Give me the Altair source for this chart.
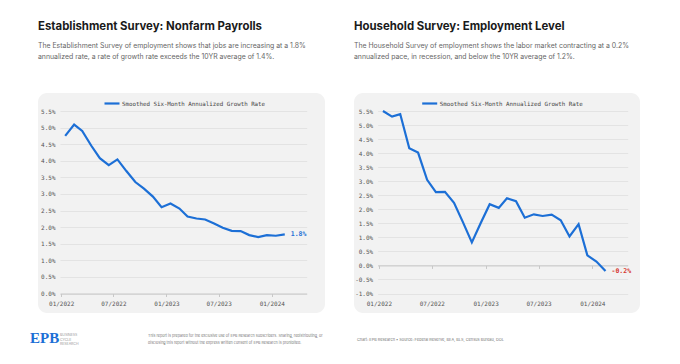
import altair as alt
import pandas as pd

# ---------------- data ----------------
months = pd.date_range("2022-01-01", periods=26, freq="MS") + pd.Timedelta(days=14)

estab_values = [4.75, 5.09, 4.90, 4.46, 4.08, 3.87, 4.04, 3.69, 3.36, 3.16, 2.92, 2.60,
                2.71, 2.56, 2.32, 2.26, 2.23, 2.11, 1.98, 1.89, 1.88, 1.76, 1.70, 1.76,
                1.74, 1.78]
house_values = [5.50, 5.30, 5.39, 4.17, 4.02, 3.05, 2.61, 2.62, 2.23, 1.55, 0.82, 1.50,
                2.18, 2.05, 2.39, 2.29, 1.70, 1.82, 1.76, 1.81, 1.61, 1.03, 1.47, 0.36,
                0.14, -0.20]

series_name = "Smoothed Six-Month Annualized Growth Rate"

estab_ticks = [0.0, 0.5, 1.0, 1.5, 2.0, 2.5, 3.0, 3.5, 4.0, 4.5, 5.0, 5.5]
house_ticks = [-1.0, -0.5, 0.0, 0.5, 1.0, 1.5, 2.0, 2.5, 3.0, 3.5, 4.0, 4.5, 5.0, 5.5]

estab_title = "Establishment Survey: Nonfarm Payrolls"
estab_sub = ["The Establishment Survey of employment shows that jobs are increasing at a 1.8%",
             "annualized rate, a rate of growth rate exceeds the 10YR average of 1.4%."]
house_title = "Household Survey: Employment Level"
house_sub = ["The Household Survey of employment shows the labor market contracting at a 0.2%",
             "annualized pace, in recession, and below the 10YR average of 1.2%."]

footer_disclaimer = ["This report is prepared for the exclusive use of EPB Research subscribers. Sharing, redistributing, or",
                     "disclosing this report without the express written consent of EPB Research is prohibited."]
footer_source = "Chart: EPB Research  \u2022  Source: Federal Reserve, BEA, BLS, Census Bureau, DOL"

# ---------------- style ----------------
BLUE = "#1c6fd6"
RED = "#d6362f"
CARD = "#f2f2f2"
MONO = "DejaVu Sans Mono"
SANS = "Inter"

x_dom = [alt.DateTime(year=2021, month=12, date=28), alt.DateTime(year=2024, month=5, date=1)]
x_ticks = [alt.DateTime(year=y, month=m, date=1) for (y, m) in
           [(2022, 1), (2022, 7), (2023, 1), (2023, 7), (2024, 1)]]

CARD_W_L, CARD_W_R, CARD_H = 287, 286, 220
Y_RANGE = [200.5, 18.0]


def panel(values, ticks, title, sub, x_range, label_color, zero_axis, card_w):
    df = pd.DataFrame({"date": months, "value": values, "series": series_name})
    last = df.tail(1).assign(label=f"{values[-1]:.1f}%")
    ymin, ymax = ticks[0], ticks[-1]
    y0 = Y_RANGE[0] + (0 - ymin) / (ymax - ymin) * (Y_RANGE[1] - Y_RANGE[0])
    axis_y = y0 if zero_axis else Y_RANGE[0]
    x_offset = axis_y - CARD_H
    label_pad = (Y_RANGE[0] - axis_y) + 3.5

    x_scale = alt.Scale(domain=x_dom, range=x_range)
    y_scale = alt.Scale(domain=[ymin, ymax], range=Y_RANGE, nice=False, zero=False)

    x_axis = alt.Axis(values=x_ticks, format="%m/%Y", title=None, grid=False,
                      offset=x_offset, tickSize=3, labelPadding=label_pad,
                      tickColor="#c8c8c8", domainColor="#c8c8c8", domainWidth=1,
                      labelFont=MONO, labelFontSize=6, labelColor="#555",
                      labelFlush=False, labelOverlap=False, labelBound=False)
    y_axis = alt.Axis(values=ticks, title=None, ticks=False, domain=False,
                      offset=-x_range[0], labelPadding=5, labelOverlap=False,
                      labelBound=False, labelFlush=False,
                      labelExpr="(datum.value < 0 ? '-' : '') + format(abs(datum.value), '.1f') + '%'",
                      labelFont=MONO, labelFontSize=6, labelColor="#555",
                      gridColor="#dedede", gridWidth=0.8)

    x_enc = alt.X("date:T", scale=x_scale, axis=x_axis)
    y_enc = alt.Y("value:Q", scale=y_scale, axis=y_axis)

    line = alt.Chart(df).mark_line(strokeWidth=2.2).encode(
        x=x_enc, y=y_enc,
        color=alt.Color("series:N", scale=alt.Scale(range=[BLUE]),
                        legend=alt.Legend(orient="none", legendX=x_range[0] + 43, legendY=1.5,
                                          title=None, symbolType="stroke", symbolSize=225,
                                          symbolStrokeWidth=2.2, labelFont=MONO,
                                          labelFontSize=5.8, labelColor="#444", labelOffset=1)))
    end = alt.Chart(last).mark_text(align="left", baseline="middle", dx=6, font=MONO,
                                    fontSize=6.5, fontWeight="bold", color=label_color).encode(
        x=alt.X("date:T", scale=x_scale, axis=x_axis),
        y=alt.Y("value:Q", scale=y_scale, axis=y_axis),
        text="label:N")

    return alt.layer(line, end).properties(
        width=card_w, height=CARD_H,
        view=alt.ViewBackground(fill=CARD, cornerRadius=9, strokeWidth=0),
        title=alt.TitleParams(text=title, subtitle=sub, anchor="start", font=SANS,
                              fontSize=11.4, fontWeight="bold", color="#1a1a1a",
                              subtitleFont=SANS, subtitleFontSize=6.9, subtitleColor="#666",
                              subtitleLineHeight=11, subtitlePadding=11, offset=33))


left = panel(estab_values, estab_ticks, estab_title, estab_sub, [22.0, 268.7], BLUE, False, CARD_W_L)
right = panel(house_values, house_ticks, house_title, house_sub, [23.7, 273.7], RED, True, CARD_W_R)

one = pd.DataFrame({"k": [0]})


def ftext(txt, x, y, size, color, **kw):
    return alt.Chart(one).mark_text(align="left", baseline="middle", fontSize=size,
                                    color=color, **kw).encode(
        x=alt.value(x), y=alt.value(y), text=alt.value(txt))


footer = alt.layer(
    ftext("EPB", -8, 15, 15, BLUE, font="Liberation Serif", fontWeight="bold"),
    ftext("BUSINESS", 22, 12, 3.5, "#999", font=SANS),
    ftext("CYCLE", 22, 16.5, 3.5, "#999", font=SANS),
    ftext("RESEARCH", 22, 21, 3.5, "#999", font=SANS),
    ftext(footer_disclaimer[0], 110, 13.3, 3.7, "#777", font=SANS),
    ftext(footer_disclaimer[1], 110, 20.3, 3.7, "#777", font=SANS),
    ftext(footer_source, 319, 17.3, 3.9, "#777", font=SANS),
).properties(width=602, height=36)

panels = alt.hconcat(left, right, spacing=29).resolve_scale(color="independent").resolve_legend(color="independent")

chart = alt.vconcat(
    panels,
    footer, spacing=10
).properties(
    padding={"left": 22, "top": 12, "right": 5, "bottom": 5},
    background="white"
).configure_view(strokeWidth=0)

chart.save("out.html", embed_options={"renderer": "svg", "actions": False})
